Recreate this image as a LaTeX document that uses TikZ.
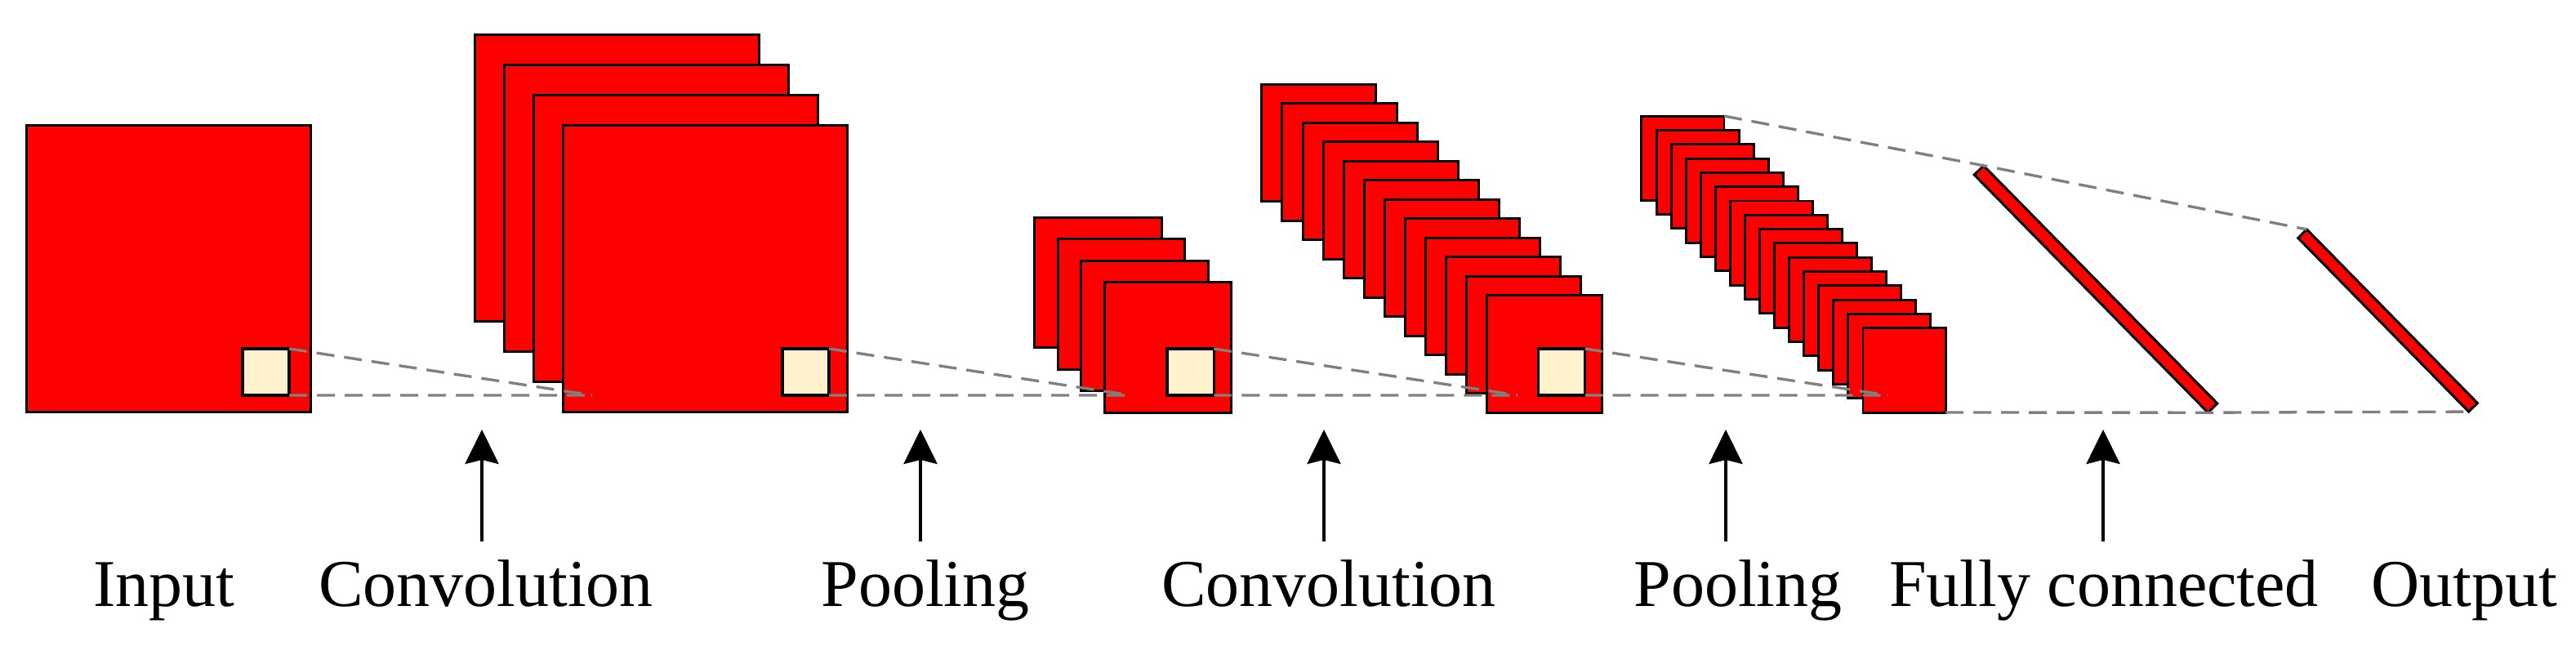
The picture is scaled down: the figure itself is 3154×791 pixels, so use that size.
\documentclass[tikz,border=0pt]{standalone}
\usepackage{fontspec}
\setmainfont{Liberation Serif}
\usetikzlibrary{arrows.meta}
\definecolor{cream}{HTML}{FFF2CC}
\definecolor{dashgray}{HTML}{808080}
\begin{document}
\begin{tikzpicture}[x=0.01cm,y=-0.01cm,
  fmap/.style={draw=black, fill=red, line width=0.85pt, inner sep=0pt, outer sep=0pt},
  patch/.style={draw=black, fill=cream, line width=1pt, inner sep=0pt, outer sep=0pt, minimum width=0.57cm, minimum height=0.57cm},
  guide/.style={draw=dashgray, line width=0.95pt, dash pattern=on 0.22cm off 0.12cm},
  uparrow/.style={line width=1.1pt, -{Stealth[length=0.42cm, width=0.41cm, inset=0.05cm]}},
  lbl/.style={anchor=base, inner sep=0pt, font=\fontsize{23.3}{28}\selectfont}]

\useasboundingbox (0,0) rectangle (3154,791);

% Input
\node[fmap, minimum width=3.47cm, minimum height=3.50cm] (in) at (206.5,329) {};
\node[patch] (inp) at (325.5,455.5) {};

% Convolution 1
\foreach \i in {1,...,4}
  \node[fmap, minimum width=3.47cm, minimum height=3.50cm] (c1-\i) at ({863.5-(4-\i)*36},{329-(4-\i)*37}) {};
\node[patch] (c1p) at (986.5,455.5) {};

% Pooling 1
\foreach \i in {1,...,4}
  \node[fmap, minimum width=1.55cm, minimum height=1.59cm] (p1-\i) at ({1430-(4-\i)*28.5},{425.5-(4-\i)*26.5}) {};
\node[patch] (p1p) at (1457.75,455.5) {};

% Convolution 2
\foreach \i in {1,...,12}
  \node[fmap, minimum width=1.40cm, minimum height=1.43cm] (c2-\i) at ({1891-(12-\i)*25.1},{433.5-(12-\i)*23.5}) {};
\node[patch] (c2p) at (1912,455.5) {};

% Pooling 2
\foreach \i in {1,...,16}
  \node[fmap, minimum width=1.01cm, minimum height=1.03cm] (p2-\i) at ({2331.5-(16-\i)*18.07},{453.5-(16-\i)*17.33}) {};

% Fully connected and output
\node[fmap, minimum width=4.08cm, minimum height=0.16cm, rotate=-45.5] (fc) at (2566,354) {};
\node[fmap, minimum width=2.98cm, minimum height=0.15cm, rotate=-45.5] (out) at (2923.5,392.5) {};

% receptive field guides
\coordinate (q1) at (725,484);
\coordinate (q2) at (1384,484);
\coordinate (q3) at (1858,484);
\coordinate (q4) at (2311,484);
\draw[guide] (inp.north east) -- (q1);
\draw[guide] (inp.south east) -- (q1);
\draw[guide] (c1p.north east) -- (q2);
\draw[guide] (c1p.south east) -- (q2);
\draw[guide] (p1p.north east) -- (q3);
\draw[guide] (p1p.south east) -- (q3);
\draw[guide] (c2p.north east) -- (q4);
\draw[guide] (c2p.south east) -- (q4);
\draw[guide] (p2-1.north east) -- (fc.north west) -- (out.north west);
\draw[guide] (p2-16.south east) -- (fc.south east) -- (out.south east);

% arrows
\foreach \x/\n in {590/1,1127/2,1621/3,2113/4,2575/5} {
  \coordinate (at\n) at (\x,663);
  \coordinate (ah\n) at (\x,526);
  \draw[uparrow] (at\n) -- (ah\n);
}

% labels
\node[lbl] (lin) at (201,742) {Input};
\node[lbl] (lc1) at (595,742) {Convolution};
\node[lbl] (lp1) at (1133,742) {Pooling};
\node[lbl] (lc2) at (1627,742) {Convolution};
\node[lbl] (lp2) at (2128,742) {Pooling};
\node[lbl] (lfc) at (2576,742) {Fully connected};
\node[lbl] (lout) at (3017,742) {Output};
\end{tikzpicture}
\end{document}
